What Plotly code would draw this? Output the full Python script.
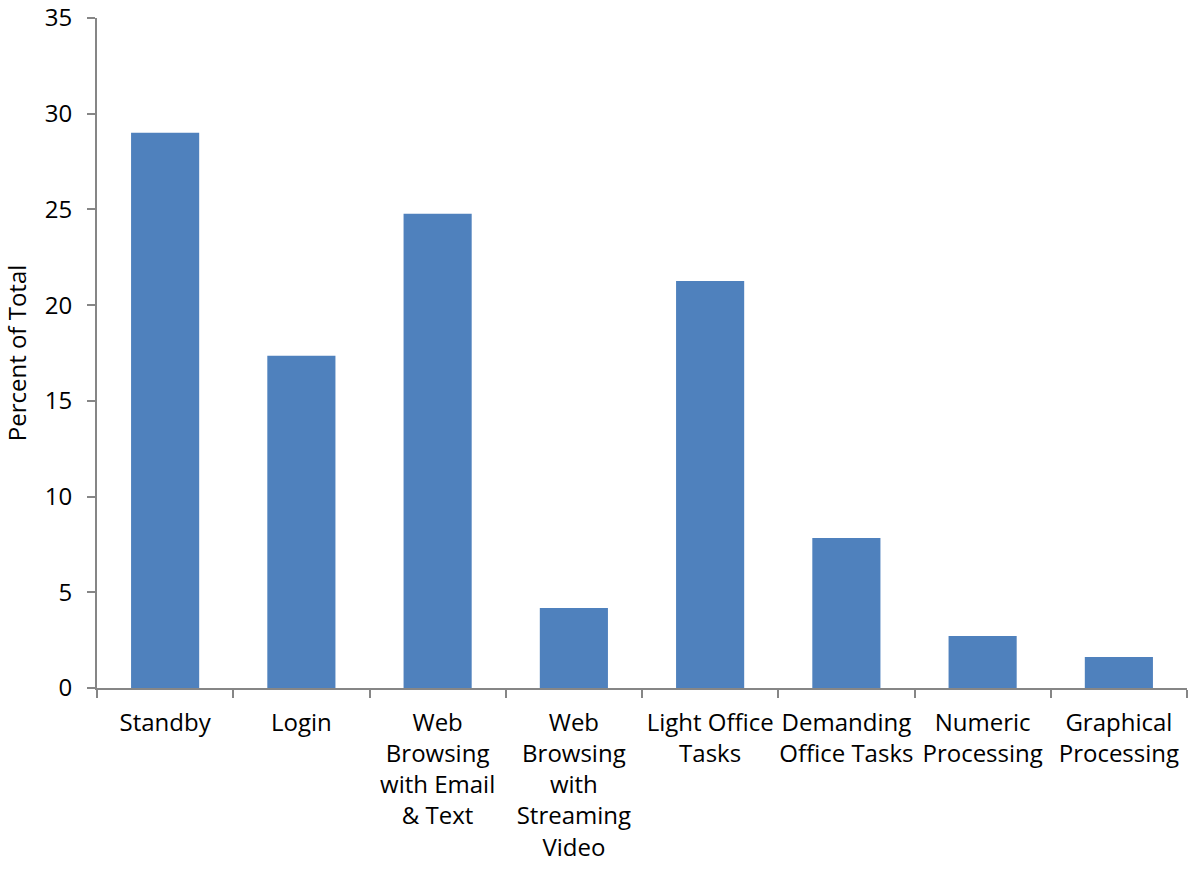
import plotly.graph_objects as go

categories = [
    "Standby",
    "Login",
    "Web<br>Browsing<br>with Email<br>& Text",
    "Web<br>Browsing<br>with<br>Streaming<br>Video",
    "Light Office<br>Tasks",
    "Demanding<br>Office Tasks",
    "Numeric<br>Processing",
    "Graphical<br>Processing",
]
values = [29.0, 17.35, 24.77, 4.18, 21.26, 7.84, 2.72, 1.62]
y_ticks = [0, 5, 10, 15, 20, 25, 30, 35]

fig = go.Figure(
    go.Bar(x=categories, y=values, marker=dict(color="#4F81BD", line=dict(width=0)), width=0.5)
)

axis_gray = "#868686"
font = dict(family="Open Sans", size=24, color="black")

fig.update_layout(
    width=1188,
    height=873,
    margin=dict(l=97, r=1, t=18, b=185),
    paper_bgcolor="white",
    plot_bgcolor="white",
    font=font,
    showlegend=False,
    xaxis=dict(
        type="category",
        showline=True,
        linecolor=axis_gray,
        linewidth=2,
        ticks="outside",
        tickson="boundaries",
        ticklen=8,
        tickwidth=2,
        tickcolor=axis_gray,
        showgrid=False,
        tickangle=0,
        tickfont=font,
        ticklabelstandoff=12,
        automargin=False,
    ),
    yaxis=dict(
        range=[0, 35],
        tickvals=y_ticks,
        showline=True,
        linecolor=axis_gray,
        linewidth=2,
        ticks="outside",
        ticklen=8,
        tickwidth=2,
        tickcolor=axis_gray,
        showgrid=False,
        zeroline=False,
        tickfont=font,
        ticklabelstandoff=10,
        title=dict(text="Percent of Total", font=font, standoff=15),
        automargin=False,
    ),
)

fig.write_html("out.html")
